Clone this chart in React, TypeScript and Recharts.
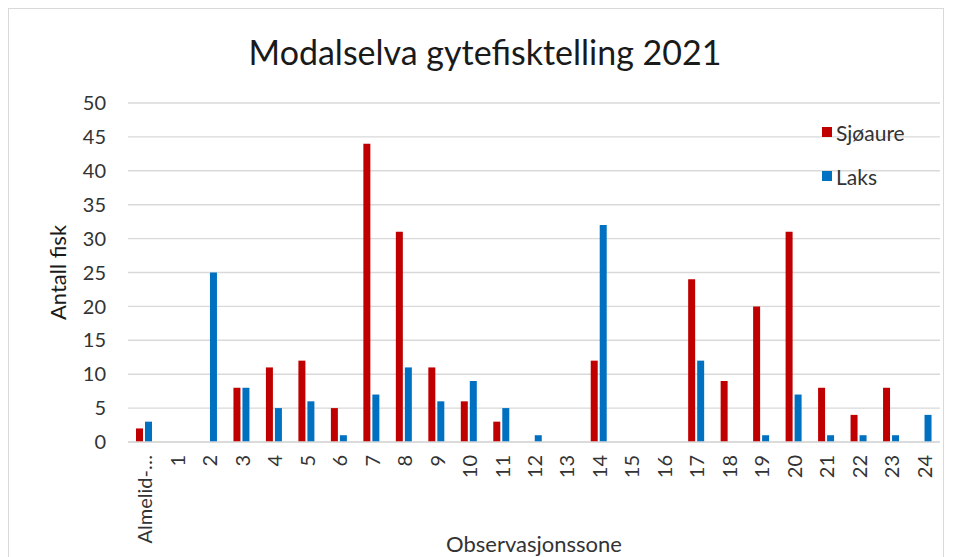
import React from 'react';
import {
  BarChart, Bar, XAxis, YAxis, CartesianGrid, Legend, Label,
} from 'recharts';

const zones = [
  'Almelid-…', '1', '2', '3', '4', '5', '6', '7', '8', '9', '10', '11', '12',
  '13', '14', '15', '16', '17', '18', '19', '20', '21', '22', '23', '24',
];
const sjoaure = [2, 0, 0, 8, 11, 12, 5, 44, 31, 11, 6, 3, 0, 0, 12, 0, 0, 24, 9, 20, 31, 8, 4, 8, 0];
const laks = [3, 0, 25, 8, 5, 6, 1, 7, 11, 6, 9, 5, 1, 0, 32, 0, 0, 12, 0, 1, 7, 1, 1, 1, 4];
const yTicks = [0, 5, 10, 15, 20, 25, 30, 35, 40, 45, 50];
const seriesOrder = ['Sjøaure', 'Laks'];

const FONT = 'Lato, "Open Sans", sans-serif';
const TEXT = '#333333';

const data = zones.map((zone, i) => ({ zone, sjoaure: sjoaure[i], laks: laks[i] }));

const ZoneTick = ({ x, y, payload }: any) => (
  <g transform={`translate(${x},${y})`}>
    <text
      transform="rotate(-90)" textAnchor="end" dominantBaseline="central"
      fontSize={20} fill={TEXT} fontFamily={FONT}
    >
      {payload.value}
    </text>
  </g>
);

const LegendBox = ({ payload }: any) => {
  const items = [...(payload || [])].sort(
    (a: any, b: any) => seriesOrder.indexOf(a.value) - seriesOrder.indexOf(b.value),
  );
  return (
    <div style={{ fontFamily: FONT, fontSize: 21, color: TEXT }}>
      {items.map((p: any) => (
        <div key={p.value} style={{ display: 'flex', alignItems: 'center', height: 44 }}>
          <span style={{ width: 10, height: 10, background: p.color, marginRight: 4 }} />
          <span>{p.value}</span>
        </div>
      ))}
    </div>
  );
};

export default function App() {
  return (
    <div
      style={{
        position: 'relative', width: 936, height: 560, boxSizing: 'border-box',
        border: '1px solid #d9d9d9', background: '#fff', fontFamily: FONT,
      }}
    >
      <div
        style={{
          position: 'absolute', left: 0, width: 952, top: 23, textAlign: 'center',
          fontSize: 34, color: '#1a1a1a', lineHeight: '40px',
        }}
      >
        Modalselva gytefisktelling 2021
      </div>
      <BarChart
        width={934} height={551} data={data}
        margin={{ top: 94, right: 3, bottom: 0, left: 0 }}
        barSize={7} barGap={2}
      >
        <CartesianGrid vertical={false} stroke="#d9d9d9" strokeWidth={1.4} />
        <XAxis
          dataKey="zone" interval={0} height={118}
          axisLine={{ stroke: '#d9d9d9', strokeWidth: 1.4 }} tickLine={false}
          tickSize={0} tickMargin={13} tick={<ZoneTick />}
        >
          <Label
            content={({ viewBox }: any) => (
              <text
                x={viewBox.x + viewBox.width / 2} y={543} textAnchor="middle"
                fontSize={22} fill={TEXT} fontFamily={FONT}
              >
                Observasjonssone
              </text>
            )}
          />
        </XAxis>
        <YAxis
          width={119} domain={[0, 50]} ticks={yTicks} interval={0}
          axisLine={false} tickLine={false} tickSize={0} tickMargin={22}
          tick={{ fontSize: 20, fill: TEXT, fontFamily: FONT }}
        >
          <Label
            content={({ viewBox }: any) => (
              <text
                transform={`translate(48,${viewBox.y + viewBox.height / 2}) rotate(-90)`}
                textAnchor="middle" dominantBaseline="central"
                fontSize={22} fill="#1a1a1a" fontFamily={FONT}
              >
                Antall fisk
              </text>
            )}
          />
        </YAxis>
        <Legend
          layout="vertical" align="center" verticalAlign="middle" content={<LegendBox />}
          wrapperStyle={{ position: 'absolute', left: 813, top: 101, width: 120 }}
        />
        <Bar dataKey="sjoaure" name="Sjøaure" fill="#C00000" isAnimationActive={false} />
        <Bar dataKey="laks" name="Laks" fill="#0070C0" isAnimationActive={false} />
      </BarChart>
    </div>
  );
}
